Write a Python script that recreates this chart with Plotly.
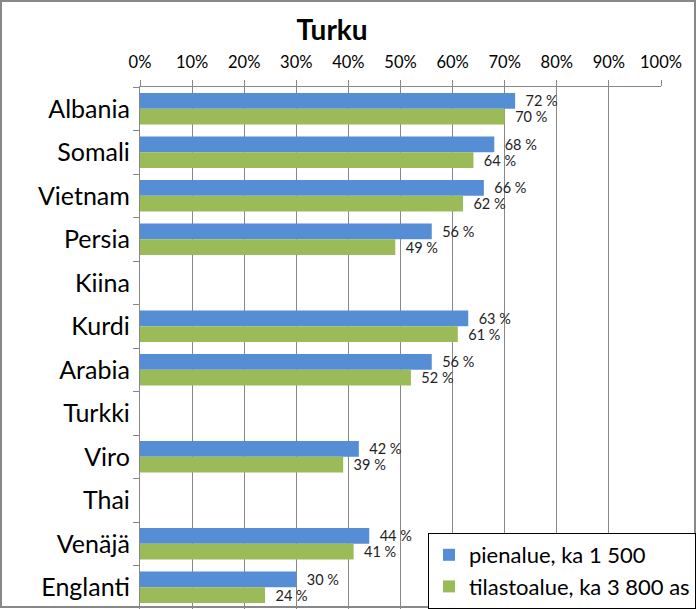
import plotly.graph_objects as go

categories = ["Albania", "Somali", "Vietnam", "Persia", "Kiina", "Kurdi",
              "Arabia", "Turkki", "Viro", "Thai", "Venäjä", "Englanti"]
pienalue = [72, 68, 66, 56, None, 63, 56, None, 42, None, 44, 30]
tilastoalue = [70, 64, 62, 49, None, 61, 52, None, 39, None, 41, 24]
series_names = ["pienalue, ka 1 500", "tilastoalue, ka 3 800 as"]
x_ticks = list(range(0, 101, 10))

W, H = 696, 609
L, R, T, B = 140, 35, 87, 0
pw, ph = W - L - R, H - T - B

FONT = "Lato"

def labels(vals):
    return ["\u00a0\u00a0" + f"{v} %" if v is not None else "" for v in vals]

fig = go.Figure()
for name, vals, col in [(series_names[0], pienalue, "#558ED5"),
                        (series_names[1], tilastoalue, "#9BBB59")]:
    fig.add_trace(go.Bar(
        y=categories, x=vals, name=name, orientation="h",
        marker=dict(color=col, line=dict(width=0)),
        text=labels(vals), textposition="outside", constraintext="none",
        textfont=dict(family=FONT, size=14.5, color="#222"),
        cliponaxis=False,
    ))

fig.update_layout(
    width=W, height=H,
    margin=dict(l=L, r=R, t=T, b=B, autoexpand=False),
    paper_bgcolor="white", plot_bgcolor="white",
    barmode="group", bargap=0.28, bargroupgap=0,
    font=dict(family=FONT, color="black"),
    title=dict(text="<b>Turku</b>", x=332 / W, xanchor="center", xref="container",
               y=1 - 30 / H, yanchor="middle", yref="container",
               font=dict(family=FONT, size=28, color="black")),
    xaxis=dict(side="top", range=[0, 100], tickvals=x_ticks,
               ticktext=[f"{v}%" for v in x_ticks],
               showgrid=True, gridcolor="#888", gridwidth=1.3,
               ticks="outside", ticklen=6, tickcolor="#888",
               showline=True, linecolor="#888", linewidth=1.3,
               tickfont=dict(family=FONT, size=16.5, color="black"),
               ticklabelstandoff=5,
               zeroline=False, fixedrange=True),
    yaxis=dict(type="category", autorange="reversed",
               tickson="boundaries", ticks="outside", ticklen=6, tickcolor="#888",
               showline=True, linecolor="#888", linewidth=1.3,
               showgrid=False,
               tickfont=dict(family=FONT, size=25, color="black"),
               ticklabelstandoff=4),
    legend=dict(x=(428 - L) / pw, xanchor="left", y=0, yanchor="bottom",
                bgcolor="white", bordercolor="black", borderwidth=1,
                font=dict(family=FONT, size=22, color="black"),
                traceorder="normal", tracegroupgap=0, itemwidth=30),
    showlegend=True,
)

# outer chart border
fig.add_shape(type="rect", xref="paper", yref="paper",
              x0=(1 - L) / pw, x1=(W - 1 - L) / pw,
              y0=(H - 607 - B) / ph, y1=(H - 1 - B) / ph,
              line=dict(color="#888", width=2), fillcolor="rgba(0,0,0,0)",
              layer="above")

fig.write_html("out.html")
